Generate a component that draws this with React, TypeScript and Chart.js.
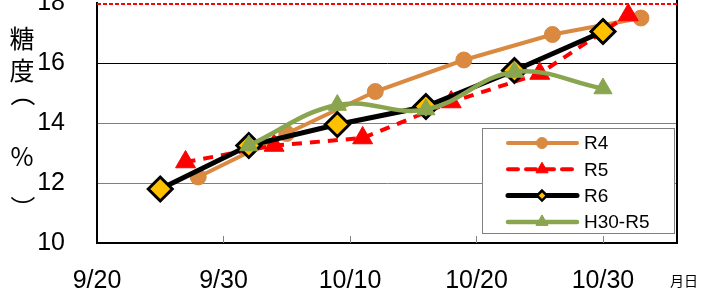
import { useEffect, useRef } from "react";
import { Chart, registerables } from "chart.js";

Chart.register(...registerables);

// Days counted from 9/20
const TICK_DAYS = [0, 10, 20, 30, 40];
const TICK_LABELS = ["9/20", "9/30", "10/10", "10/20", "10/30"];
const X_MAX_DAY = 45.85;
const Y_MIN = 10;
const Y_MAX = 18;
const Y_STEP = 2;
const Y_TITLE = "糖度（%）";
const X_TITLE = "月日";

const SERIES_NAMES = ["R4", "R5", "R6", "H30-R5"];
const R4_DAYS = [8, 15, 22, 29, 36, 43];
const R4_VALUES = [12.2, 13.65, 15.05, 16.1, 16.95, 17.5];
const R5_DAYS = [7, 14, 21, 28, 35, 42];
const R5_VALUES = [12.7, 13.25, 13.5, 14.7, 15.65, 17.6];
const R6_DAYS = [5, 12, 19, 26, 33, 40];
const R6_VALUES = [11.8, 13.25, 13.95, 14.55, 15.75, 17.05];
const H30_DAYS = [12, 19, 26, 33, 40];
const H30_VALUES = [13.25, 14.6, 14.45, 15.7, 15.15];

const ORANGE = "#D98A40";
const RED = "#FF0000";
const GOLD = "#FFC000";
const GREEN = "#8AA54F";

const toPoints = (xs: number[], ys: number[]) => xs.map((x, i) => ({ x, y: ys[i] }));

const decorPlugin = {
  id: "decor",
  beforeDatasetsDraw(chart: any) {
    const { ctx, chartArea: a, scales } = chart;
    const x = scales.x;
    const y = scales.y;
    ctx.save();
    // right border
    ctx.strokeStyle = "#000";
    ctx.lineWidth = 2;
    ctx.beginPath();
    ctx.moveTo(a.right, 0);
    ctx.lineTo(a.right, a.bottom);
    ctx.stroke();
    // inward tick marks
    ctx.strokeStyle = "#808080";
    ctx.lineWidth = 1;
    TICK_DAYS.slice(1).forEach((d) => {
      const px = Math.round(x.getPixelForValue(d)) + 0.5;
      ctx.beginPath();
      ctx.moveTo(px, a.bottom);
      ctx.lineTo(px, a.bottom - 7);
      ctx.stroke();
    });
    // red dashed top line
    const ty = y.getPixelForValue(Y_MAX) + 1;
    ctx.strokeStyle = RED;
    ctx.lineWidth = 2;
    ctx.setLineDash([4, 2]);
    ctx.beginPath();
    ctx.moveTo(a.left, ty);
    ctx.lineTo(a.right, ty);
    ctx.stroke();
    ctx.restore();
  },
  afterDraw(chart: any) {
    const { ctx } = chart;
    ctx.save();
    // y title, stacked vertically
    ctx.fillStyle = "#000";
    ctx.textAlign = "center";
    ctx.textBaseline = "middle";
    ctx.font = "25px 'Noto Sans CJK JP'";
    const chars = Array.from(Y_TITLE);
    const ys = [38, 70, 94, 156, 208];
    chars.forEach((c, i) => {
      const cy = ys[i];
      if (c === "（" || c === "）") {
        ctx.save();
        ctx.translate(22, cy);
        ctx.rotate(Math.PI / 2);
        ctx.fillText(c, 0, 0);
        ctx.restore();
      } else {
        ctx.fillText(c, 22, cy);
      }
    });
    // x title
    ctx.font = "14px 'Noto Sans CJK JP'";
    ctx.fillText(X_TITLE, 684, 281);

    // legend
    const lx = 482, ly = 128, lw = 192, lh = 105;
    ctx.fillStyle = "#fff";
    ctx.fillRect(lx, ly, lw, lh);
    ctx.strokeStyle = "#808080";
    ctx.lineWidth = 1;
    ctx.strokeRect(lx + 0.5, ly + 0.5, lw, lh);
    chart.data.datasets.forEach((ds: any, i: number) => {
      const ry = 143 + i * 26.3;
      ctx.save();
      ctx.strokeStyle = ds.borderColor;
      ctx.lineWidth = ds.borderWidth;
      ctx.lineCap = "round";
      ctx.setLineDash(ds.borderDash || []);
      ctx.beginPath();
      ctx.moveTo(508, ry);
      ctx.lineTo(577, ry);
      ctx.stroke();
      ctx.restore();
      ctx.save();
      ctx.fillStyle = ds.pointBackgroundColor;
      ctx.strokeStyle = ds.pointBorderColor;
      ctx.lineWidth = i === 2 ? 2.5 : 1;
      const mx = 542;
      ctx.beginPath();
      if (ds.pointStyle === "circle") {
        ctx.arc(mx, ry, 5.5, 0, Math.PI * 2);
      } else if (ds.pointStyle === "triangle") {
        const r = 7;
        ctx.moveTo(mx, ry - r);
        ctx.lineTo(mx + r * 0.866, ry + r * 0.5);
        ctx.lineTo(mx - r * 0.866, ry + r * 0.5);
        ctx.closePath();
      } else {
        const r = 5;
        ctx.moveTo(mx, ry - r);
        ctx.lineTo(mx + r, ry);
        ctx.lineTo(mx, ry + r);
        ctx.lineTo(mx - r, ry);
        ctx.closePath();
      }
      ctx.fill();
      ctx.stroke();
      ctx.restore();
      ctx.fillStyle = "#000";
      ctx.textAlign = "left";
      ctx.textBaseline = "middle";
      ctx.font = "19px 'Liberation Sans'";
      ctx.fillText(ds.label, 584, ry + 1);
    });
    ctx.restore();
  },
};

export default function App() {
  const ref = useRef<HTMLCanvasElement | null>(null);
  useEffect(() => {
    if (!ref.current) return;
    const chart = new Chart(ref.current, {
      type: "line",
      data: {
        datasets: [
          {
            label: SERIES_NAMES[0],
            data: toPoints(R4_DAYS, R4_VALUES),
            borderColor: ORANGE,
            borderWidth: 4,
            pointStyle: "circle",
            pointRadius: 8,
            pointBackgroundColor: ORANGE,
            pointBorderColor: ORANGE,
            pointBorderWidth: 1,
            order: 4,
          },
          {
            label: SERIES_NAMES[1],
            data: toPoints(R5_DAYS, R5_VALUES),
            borderColor: RED,
            borderWidth: 4,
            borderDash: [10, 8],
            pointStyle: "triangle",
            pointRadius: 11.5,
            pointBackgroundColor: RED,
            pointBorderColor: RED,
            pointBorderWidth: 1,
            order: 3,
          },
          {
            label: SERIES_NAMES[2],
            data: toPoints(R6_DAYS, R6_VALUES),
            borderColor: "#000",
            borderWidth: 5,
            pointStyle: "rectRot",
            pointRadius: 12,
            pointBackgroundColor: GOLD,
            pointBorderColor: "#000",
            pointBorderWidth: 3,
            order: 2,
          },
          {
            label: SERIES_NAMES[3],
            data: toPoints(H30_DAYS, H30_VALUES),
            borderColor: GREEN,
            borderWidth: 4.5,
            tension: 0.4,
            pointStyle: "triangle",
            pointRadius: 10.5,
            pointBackgroundColor: GREEN,
            pointBorderColor: GREEN,
            pointBorderWidth: 1,
            order: 1,
          },
        ],
      },
      options: {
        animation: false,
        responsive: false,
        devicePixelRatio: 1,
        layout: { autoPadding: false, padding: { top: 3, right: 25, left: 0, bottom: 0 } },
        plugins: { legend: { display: false }, tooltip: { enabled: false } },
        scales: {
          x: {
            type: "linear",
            min: 0,
            max: X_MAX_DAY,
            grid: { display: true, drawOnChartArea: false, drawTicks: false },
            border: { display: true, color: "#000", width: 2 },
            ticks: {
              stepSize: 10,
              includeBounds: false,
              autoSkip: false,
              maxRotation: 0,
              padding: 23,
              color: "#000",
              font: { family: "'Liberation Sans'", size: 25 },
              callback: (v: any) => {
                const i = TICK_DAYS.indexOf(Number(v));
                return i >= 0 ? TICK_LABELS[i] : "";
              },
            },
            afterFit: (s: any) => {
              s.height = 50;
              s.paddingLeft = 0;
              s.paddingRight = 0;
            },
          },
          y: {
            min: Y_MIN,
            max: Y_MAX,
            grid: {
              drawTicks: false,
              lineWidth: 1,
              color: (c: any) => {
                const v = c.tick ? c.tick.value : null;
                if (v === 16) return "#000";
                if (v === 12 || v === 14) return "#808080";
                return "rgba(0,0,0,0)";
              },
            },
            border: { display: true, color: "#000", width: 2 },
            ticks: {
              stepSize: Y_STEP,
              padding: 32,
              color: "#000",
              font: { family: "'Liberation Sans'", size: 25, lineHeight: 0.1 },
            },
            afterFit: (s: any) => {
              s.width = 97;
              s.paddingTop = 0;
              s.paddingBottom = 0;
            },
          },
        },
      },
      plugins: [decorPlugin],
    });
    return () => chart.destroy();
  }, []);
  return (
    <div style={{ position: "fixed", left: 0, top: 0, width: 702, height: 293, background: "#fff" }}>
      <canvas ref={ref} width={702} height={293} style={{ width: 702, height: 293, display: "block" }} />
    </div>
  );
}
